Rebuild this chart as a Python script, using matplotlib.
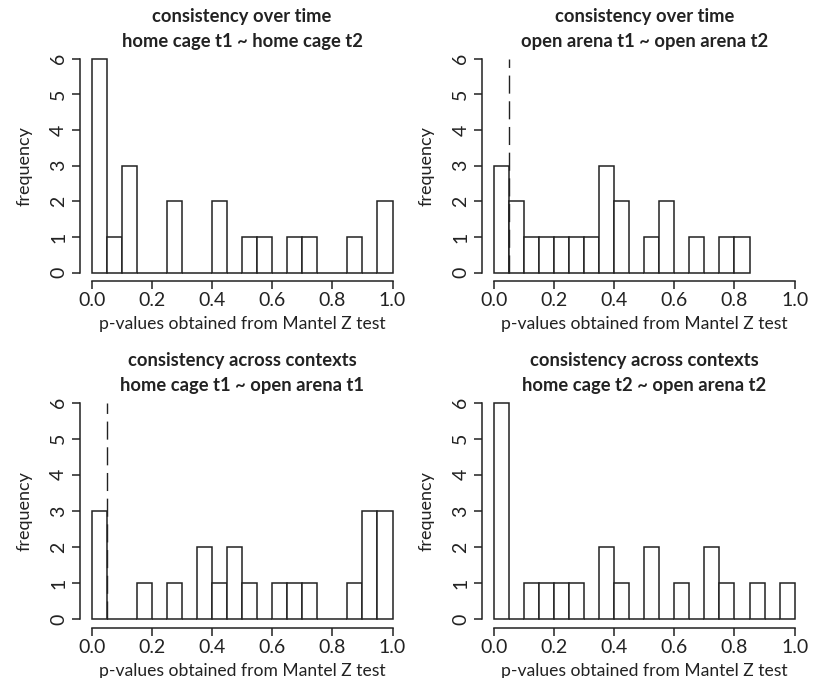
import matplotlib
matplotlib.use('Agg')
import matplotlib.pyplot as plt

# p-value histogram counts, bins of width 0.05 starting at 0
bin_width = 0.05
counts_hc1_hc2 = [6, 1, 3, 0, 0, 2, 0, 0, 2, 0, 1, 1, 0, 1, 1, 0, 0, 1, 0, 2]
counts_oa1_oa2 = [3, 2, 1, 1, 1, 1, 1, 3, 2, 0, 1, 2, 0, 1, 0, 1, 1]
counts_hc1_oa1 = [3, 0, 0, 1, 0, 1, 0, 2, 1, 2, 1, 0, 1, 1, 1, 0, 0, 1, 3, 3]
counts_hc2_oa2 = [6, 0, 1, 1, 1, 1, 0, 2, 1, 0, 2, 0, 1, 0, 2, 1, 0, 1, 0, 1]

titles = [
    "consistency over time\nhome cage t1 ~ home cage t2",
    "consistency over time\nopen arena t1 ~ open arena t2",
    "consistency across contexts\nhome cage t1 ~ open arena t1",
    "consistency across contexts\nhome cage t2 ~ open arena t2",
]
all_counts = [counts_hc1_hc2, counts_oa1_oa2, counts_hc1_oa1, counts_hc2_oa2]
show_cutoff = [False, True, True, False]
cutoff = 0.05

x_ticks = [0.0, 0.2, 0.4, 0.6, 0.8, 1.0]
y_ticks = [0, 1, 2, 3, 4, 5, 6]
xlabel = "p-values obtained from Mantel Z test"
ylabel = "frequency"

plt.rcParams['font.family'] = ['Lato', 'DejaVu Sans']
ink = '#222222'

fig = plt.figure(figsize=(8.14, 6.78), dpi=100)
positions = [
    (0.098, 0.585, 0.399, 0.341),
    (0.592, 0.585, 0.399, 0.341),
    (0.098, 0.074, 0.399, 0.345),
    (0.592, 0.074, 0.399, 0.345),
]

for pos, counts, title, cut in zip(positions, all_counts, titles, show_cutoff):
    ax = fig.add_axes(pos)
    lefts = [i * bin_width for i in range(len(counts))]
    ax.bar(lefts, counts, width=bin_width, align='edge', facecolor='white',
           edgecolor=ink, linewidth=1.1)
    if cut:
        ax.vlines(cutoff, 0, 6, colors=ink, linewidth=1.0, linestyles=(0, (13, 5.5)))

    ax.set_xlim(-0.04, 1.04)
    ax.set_ylim(-0.24, 6.24)
    for side in ['top', 'right']:
        ax.spines[side].set_visible(False)
    ax.spines['left'].set_bounds(0, 6)
    ax.spines['bottom'].set_bounds(0, 1)
    for side in ['left', 'bottom']:
        ax.spines[side].set_color(ink)
        ax.spines[side].set_linewidth(1.1)

    ax.set_xticks(x_ticks)
    ax.set_xticklabels([f"{t:.1f}" for t in x_ticks])
    ax.set_yticks(y_ticks)
    ax.set_yticklabels([str(t) for t in y_ticks], rotation=90, va='center')
    ax.tick_params(axis='both', length=6, width=1.1, color=ink, labelsize=14,
                   labelcolor=ink)
    ax.tick_params(axis='x', pad=2)
    ax.tick_params(axis='y', pad=3)

    ax.set_xlabel(xlabel, fontsize=12.6, color=ink, labelpad=5)
    ax.set_ylabel(ylabel, fontsize=13, color=ink, labelpad=13)
    ax.set_title(title, fontsize=13.2, fontweight='bold', color=ink,
                 pad=2, linespacing=1.6)

fig.savefig('out.png', dpi=100)
